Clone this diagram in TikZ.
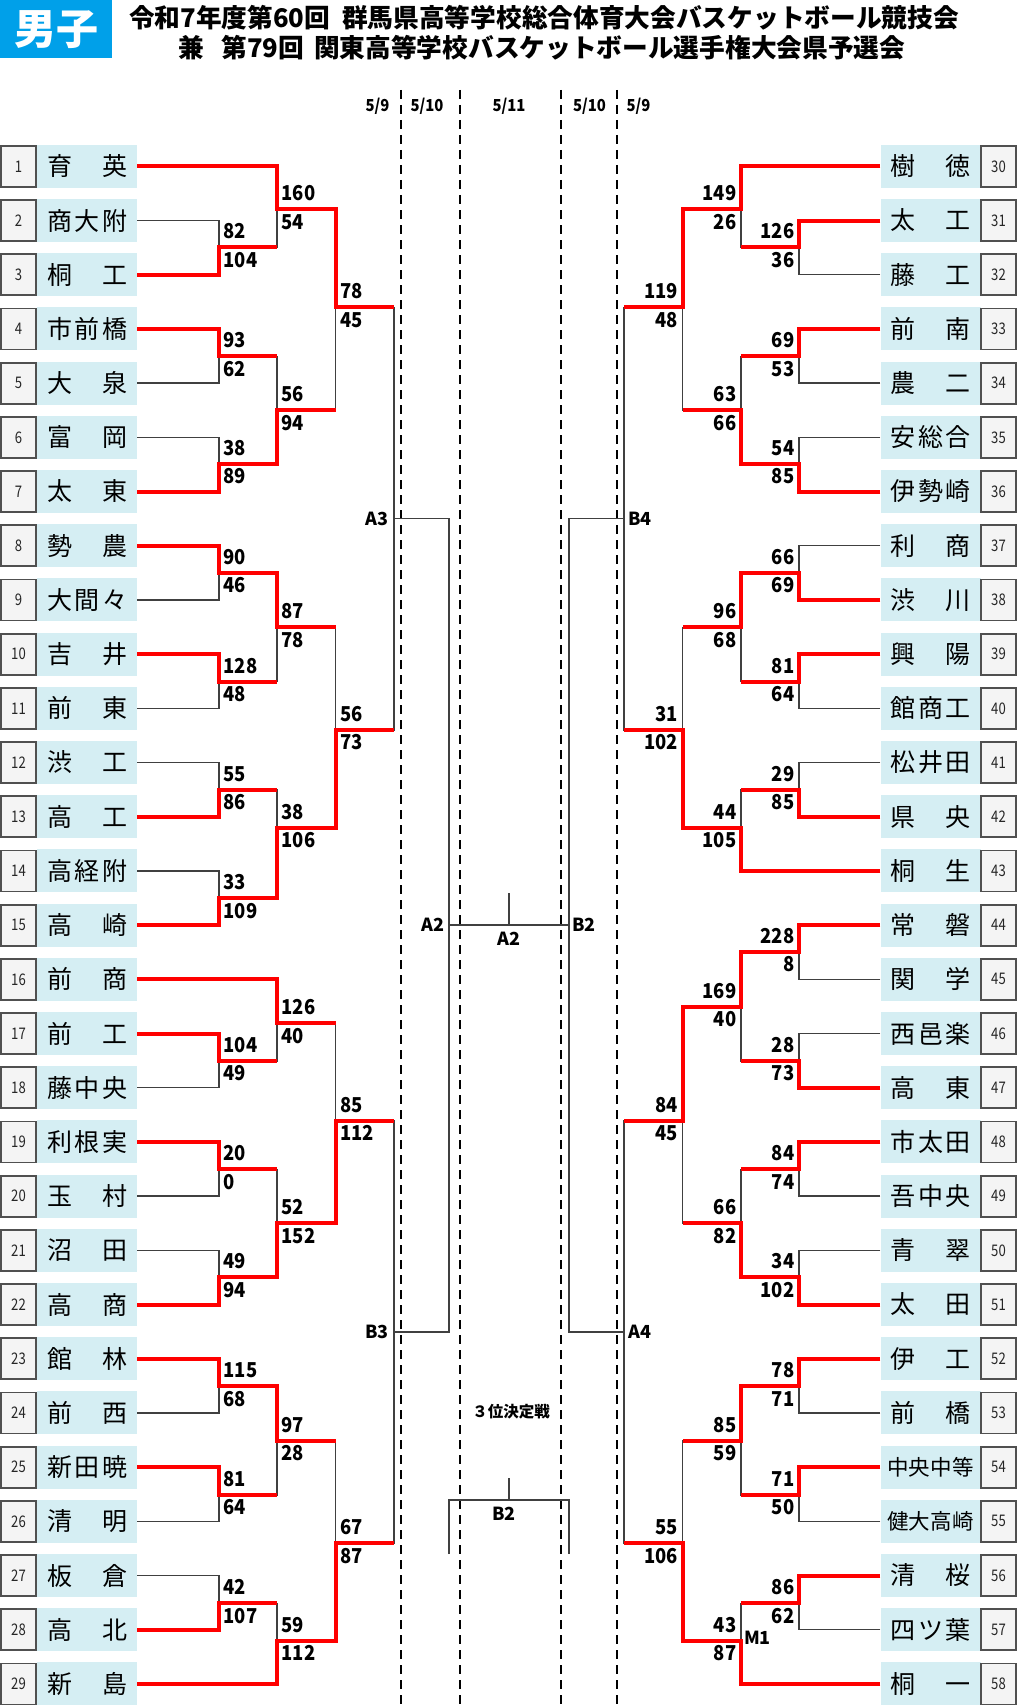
\documentclass[tikz,border=0pt]{standalone}
\usepackage{fontspec}
\newfontfamily\jp{Noto Sans CJK JP}
\newfontfamily\jpn{Noto Sans CJK JP}[FakeStretch=0.82]
\newfontfamily\jps{Noto Sans CJK JP}[FakeStretch=0.9]
\definecolor{namefill}{HTML}{D5EEF3}
\definecolor{numfill}{HTML}{F4F4F4}
\definecolor{numline}{HTML}{505050}
\definecolor{thinc}{HTML}{404040}
\definecolor{boyblue}{HTML}{00A0E9}
\definecolor{winred}{HTML}{FF0000}
\pgfdeclarelayer{back}
\pgfsetlayers{back,main}
\tikzset{
 win/.style={draw=winred, line width=4pt, line join=miter},
 thinline/.style={draw=thinc, line width=1.3pt},
 dashline/.style={draw=black, line width=2.6pt, dash pattern=on 9pt off 6pt},
 numbox/.style={draw=numline, line width=1.8pt, fill=numfill, minimum width=35pt, minimum height=41pt, inner sep=0pt, font=\jpn\fontsize{16}{16}\selectfont, text=black!85},
 namebox/.style={fill=namefill, minimum width=100pt, minimum height=43pt, inner sep=0pt, font=\jp\fontsize{25}{25}\selectfont},
 sc/.style={inner sep=0pt, font=\jps\bfseries\fontsize{20.5}{20.5}\selectfont},
 lab/.style={inner sep=0pt, font=\jp\bfseries\fontsize{18}{18}\selectfont},
 datelab/.style={inner sep=0pt, font=\jps\bfseries\fontsize{16.5}{16.5}\selectfont},
 titlelab/.style={inner sep=0pt, font=\jp\bfseries\fontsize{25.7}{25.7}\selectfont},
}
\newcommand\NN[1]{\makebox[80pt][s]{#1}}
\newcommand\NF[1]{{\fontsize{21.5}{21.5}\selectfont\makebox[87pt][s]{#1}}}
\newcommand\teamL[3]{\node[numbox] (n#1) at (18.5,#2) {#1};\node[namebox] (t#1) at (87,#2) {#3};}
\newcommand\teamR[3]{\node[namebox] (t#1) at (930.5,#2) {#3};\node[numbox] (n#1) at (998.5,#2) {#1};}
% left match: top src, bottom src, junction, parent, winner(1/2), top score, bottom score
\newcommand\ML[7]{%
 \ifnum#5=1
  \begin{pgfonlayer}{back}\draw[thinline] (#2) -| (#3);\end{pgfonlayer}
  \draw[win] (#1) -| (#3) -- (#3 -| #4);
 \else
  \begin{pgfonlayer}{back}\draw[thinline] (#1) -| (#3);\end{pgfonlayer}
  \draw[win] (#2) -| (#3) -- (#3 -| #4);
 \fi
 \path (#3) ++(4.5,-16) node[sc,anchor=west] (#3-a) {#6};
 \path (#3) ++(4.5,12.5) node[sc,anchor=west] (#3-b) {#7};
}
\newcommand\MR[7]{%
 \ifnum#5=1
  \begin{pgfonlayer}{back}\draw[thinline] (#2) -| (#3);\end{pgfonlayer}
  \draw[win] (#1) -| (#3) -- (#3 -| #4);
 \else
  \begin{pgfonlayer}{back}\draw[thinline] (#1) -| (#3);\end{pgfonlayer}
  \draw[win] (#2) -| (#3) -- (#3 -| #4);
 \fi
 \path (#3) ++(-4.5,-16) node[sc,anchor=east] (#3-a) {#6};
 \path (#3) ++(-4.5,12.5) node[sc,anchor=east] (#3-b) {#7};
}
\begin{document}
\begin{tikzpicture}[x=1pt,y=-1pt]
\useasboundingbox (0,0) rectangle (1020,1707);
% header
\node[fill=boyblue, text=white, minimum width=112pt, minimum height=58pt, anchor=north west, inner sep=0pt, font=\jp\bfseries\fontsize{42}{42}\selectfont] (boys) at (0,0) {男子};
\node[titlelab] (title1) at (544,17.5) {令和7年度第60回\hspace{12pt}群馬県高等学校総合体育大会バスケットボール競技会};
\node[titlelab] (title2) at (542,47.5) {兼\hspace{17pt}第79回\hspace{10pt}関東高等学校バスケットボール選手権大会県予選会};
\node[datelab] (d1) at (377.5,106) {5/9};
\node[datelab] (d2) at (427,106) {5/10};
\node[datelab] (d3) at (509,106) {5/11};
\node[datelab] (d4) at (589.5,106) {5/10};
\node[datelab] (d5) at (638.5,106) {5/9};
\begin{pgfonlayer}{back}
\foreach \xx in {401,460,561,617} \draw[dashline] (\xx,90) -- (\xx,1707);
\end{pgfonlayer}
% teams left
\teamL{1}{166.3}{\NN{育\hfill 英}}
\teamL{2}{220.5}{\NN{商\hfill 大\hfill 附}}
\teamL{3}{274.7}{\NN{桐\hfill 工}}
\teamL{4}{328.9}{\NN{市\hfill 前\hfill 橋}}
\teamL{5}{383.1}{\NN{大\hfill 泉}}
\teamL{6}{437.3}{\NN{富\hfill 岡}}
\teamL{7}{491.5}{\NN{太\hfill 東}}
\teamL{8}{545.7}{\NN{勢\hfill 農}}
\teamL{9}{599.9}{\NN{大\hfill 間\hfill 々}}
\teamL{10}{654.1}{\NN{吉\hfill 井}}
\teamL{11}{708.3}{\NN{前\hfill 東}}
\teamL{12}{762.5}{\NN{渋\hfill 工}}
\teamL{13}{816.7}{\NN{高\hfill 工}}
\teamL{14}{870.9}{\NN{高\hfill 経\hfill 附}}
\teamL{15}{925.1}{\NN{高\hfill 崎}}
\teamL{16}{979.3}{\NN{前\hfill 商}}
\teamL{17}{1033.5}{\NN{前\hfill 工}}
\teamL{18}{1087.7}{\NN{藤\hfill 中\hfill 央}}
\teamL{19}{1141.9}{\NN{利\hfill 根\hfill 実}}
\teamL{20}{1196.1}{\NN{玉\hfill 村}}
\teamL{21}{1250.3}{\NN{沼\hfill 田}}
\teamL{22}{1304.5}{\NN{高\hfill 商}}
\teamL{23}{1358.7}{\NN{館\hfill 林}}
\teamL{24}{1412.9}{\NN{前\hfill 西}}
\teamL{25}{1467.1}{\NN{新\hfill 田\hfill 暁}}
\teamL{26}{1521.3}{\NN{清\hfill 明}}
\teamL{27}{1575.5}{\NN{板\hfill 倉}}
\teamL{28}{1629.7}{\NN{高\hfill 北}}
\teamL{29}{1683.9}{\NN{新\hfill 島}}
% teams right
\teamR{30}{166.3}{\NN{樹\hfill 徳}}
\teamR{31}{220.5}{\NN{太\hfill 工}}
\teamR{32}{274.7}{\NN{藤\hfill 工}}
\teamR{33}{328.9}{\NN{前\hfill 南}}
\teamR{34}{383.1}{\NN{農\hfill 二}}
\teamR{35}{437.3}{\NN{安\hfill 総\hfill 合}}
\teamR{36}{491.5}{\NN{伊\hfill 勢\hfill 崎}}
\teamR{37}{545.7}{\NN{利\hfill 商}}
\teamR{38}{599.9}{\NN{渋\hfill 川}}
\teamR{39}{654.1}{\NN{興\hfill 陽}}
\teamR{40}{708.3}{\NN{館\hfill 商\hfill 工}}
\teamR{41}{762.5}{\NN{松\hfill 井\hfill 田}}
\teamR{42}{816.7}{\NN{県\hfill 央}}
\teamR{43}{870.9}{\NN{桐\hfill 生}}
\teamR{44}{925.1}{\NN{常\hfill 磐}}
\teamR{45}{979.3}{\NN{関\hfill 学}}
\teamR{46}{1033.5}{\NN{西\hfill 邑\hfill 楽}}
\teamR{47}{1087.7}{\NN{高\hfill 東}}
\teamR{48}{1141.9}{\NN{市\hfill 太\hfill 田}}
\teamR{49}{1196.1}{\NN{吾\hfill 中\hfill 央}}
\teamR{50}{1250.3}{\NN{青\hfill 翠}}
\teamR{51}{1304.5}{\NN{太\hfill 田}}
\teamR{52}{1358.7}{\NN{伊\hfill 工}}
\teamR{53}{1412.9}{\NN{前\hfill 橋}}
\teamR{54}{1467.1}{\NF{中\hfill 央\hfill 中\hfill 等}}
\teamR{55}{1521.3}{\NF{健\hfill 大\hfill 高\hfill 崎}}
\teamR{56}{1575.5}{\NN{清\hfill 桜}}
\teamR{57}{1629.7}{\NN{四\hfill ツ\hfill 葉}}
\teamR{58}{1683.9}{\NN{桐\hfill 一}}
% junctions left
\coordinate (a23) at (219,247.3);
\coordinate (a1x23) at (277,209.3);
\coordinate (a45) at (219,356.3);
\coordinate (a67) at (219,464);
\coordinate (a4x7) at (277,410.3);
\coordinate (a1x7) at (335.5,307.3);
\coordinate (a89) at (219,572.7);
\coordinate (a1011) at (219,681.7);
\coordinate (a8x11) at (277,627.3);
\coordinate (a1213) at (219,790);
\coordinate (a1415) at (219,898.3);
\coordinate (a12x15) at (277,827.7);
\coordinate (a8x15) at (335.5,730);
\coordinate (a1718) at (219,1061);
\coordinate (a16x18) at (277,1023.3);
\coordinate (a1920) at (219,1169.3);
\coordinate (a2122) at (219,1277.3);
\coordinate (a19x22) at (277,1223.3);
\coordinate (a16x22) at (335.5,1120.7);
\coordinate (a2324) at (219,1386.3);
\coordinate (a2526) at (219,1495);
\coordinate (a23x26) at (277,1441);
\coordinate (a2728) at (219,1603.3);
\coordinate (a27x29) at (277,1640.7);
\coordinate (a23x29) at (335.5,1543.3);
\coordinate (A3) at (394,518.7);
\coordinate (B3) at (394,1332);
% junctions right
\coordinate (b3132) at (799,247.3);
\coordinate (b30x32) at (741,209.3);
\coordinate (b3334) at (799,356.3);
\coordinate (b3536) at (799,464);
\coordinate (b33x36) at (741,410.3);
\coordinate (b30x36) at (682.5,307.3);
\coordinate (b3738) at (799,572.7);
\coordinate (b3940) at (799,681.7);
\coordinate (b37x40) at (741,627.3);
\coordinate (b4142) at (799,790);
\coordinate (b41x43) at (741,827.7);
\coordinate (b37x43) at (682.5,730);
\coordinate (b4445) at (799,951.7);
\coordinate (b4647) at (799,1061);
\coordinate (b44x47) at (741,1006.7);
\coordinate (b4849) at (799,1169.3);
\coordinate (b5051) at (799,1277.3);
\coordinate (b48x51) at (741,1223.3);
\coordinate (b44x51) at (682.5,1120.7);
\coordinate (b5253) at (799,1386.3);
\coordinate (b5455) at (799,1495);
\coordinate (b52x55) at (741,1441);
\coordinate (b5657) at (799,1603.3);
\coordinate (b56x58) at (741,1640.7);
\coordinate (b52x58) at (682.5,1543.3);
\coordinate (B4) at (624,518.7);
\coordinate (A4) at (624,1332);
% centre
\coordinate (A2L) at (449,925);
\coordinate (B2R) at (569,925);
\coordinate (F) at (509,925);
\coordinate (TL) at (449,1500);
\coordinate (TR) at (569,1500);
\coordinate (T) at (509,1500);
% left matches
\ML{t2.east}{t3.east}{a23}{a1x23}{2}{82}{104}
\ML{t1.east}{a23}{a1x23}{a1x7}{1}{160}{54}
\ML{t4.east}{t5.east}{a45}{a4x7}{1}{93}{62}
\ML{t6.east}{t7.east}{a67}{a4x7}{2}{38}{89}
\ML{a45}{a67}{a4x7}{a1x7}{2}{56}{94}
\ML{a1x23}{a4x7}{a1x7}{A3}{1}{78}{45}
\ML{t8.east}{t9.east}{a89}{a8x11}{1}{90}{46}
\ML{t10.east}{t11.east}{a1011}{a8x11}{1}{128}{48}
\ML{a89}{a1011}{a8x11}{a8x15}{1}{87}{78}
\ML{t12.east}{t13.east}{a1213}{a12x15}{2}{55}{86}
\ML{t14.east}{t15.east}{a1415}{a12x15}{2}{33}{109}
\ML{a1213}{a1415}{a12x15}{a8x15}{2}{38}{106}
\ML{a8x11}{a12x15}{a8x15}{A3}{2}{56}{73}
\ML{t17.east}{t18.east}{a1718}{a16x18}{1}{104}{49}
\ML{t16.east}{a1718}{a16x18}{a16x22}{1}{126}{40}
\ML{t19.east}{t20.east}{a1920}{a19x22}{1}{20}{0}
\ML{t21.east}{t22.east}{a2122}{a19x22}{2}{49}{94}
\ML{a1920}{a2122}{a19x22}{a16x22}{2}{52}{152}
\ML{a16x18}{a19x22}{a16x22}{B3}{2}{85}{112}
\ML{t23.east}{t24.east}{a2324}{a23x26}{1}{115}{68}
\ML{t25.east}{t26.east}{a2526}{a23x26}{1}{81}{64}
\ML{a2324}{a2526}{a23x26}{a23x29}{1}{97}{28}
\ML{t27.east}{t28.east}{a2728}{a27x29}{2}{42}{107}
\ML{a2728}{t29.east}{a27x29}{a23x29}{2}{59}{112}
\ML{a23x26}{a27x29}{a23x29}{B3}{2}{67}{87}
% right matches
\MR{t31.west}{t32.west}{b3132}{b30x32}{1}{126}{36}
\MR{t30.west}{b3132}{b30x32}{b30x36}{1}{149}{26}
\MR{t33.west}{t34.west}{b3334}{b33x36}{1}{69}{53}
\MR{t35.west}{t36.west}{b3536}{b33x36}{2}{54}{85}
\MR{b3334}{b3536}{b33x36}{b30x36}{2}{63}{66}
\MR{b30x32}{b33x36}{b30x36}{B4}{1}{119}{48}
\MR{t37.west}{t38.west}{b3738}{b37x40}{2}{66}{69}
\MR{t39.west}{t40.west}{b3940}{b37x40}{1}{81}{64}
\MR{b3738}{b3940}{b37x40}{b37x43}{1}{96}{68}
\MR{t41.west}{t42.west}{b4142}{b41x43}{2}{29}{85}
\MR{b4142}{t43.west}{b41x43}{b37x43}{2}{44}{105}
\MR{b37x40}{b41x43}{b37x43}{B4}{2}{31}{102}
\MR{t44.west}{t45.west}{b4445}{b44x47}{1}{228}{8}
\MR{t46.west}{t47.west}{b4647}{b44x47}{2}{28}{73}
\MR{b4445}{b4647}{b44x47}{b44x51}{1}{169}{40}
\MR{t48.west}{t49.west}{b4849}{b48x51}{1}{84}{74}
\MR{t50.west}{t51.west}{b5051}{b48x51}{2}{34}{102}
\MR{b4849}{b5051}{b48x51}{b44x51}{2}{66}{82}
\MR{b44x47}{b48x51}{b44x51}{A4}{1}{84}{45}
\MR{t52.west}{t53.west}{b5253}{b52x55}{1}{78}{71}
\MR{t54.west}{t55.west}{b5455}{b52x55}{1}{71}{50}
\MR{b5253}{b5455}{b52x55}{b52x58}{1}{85}{59}
\MR{t56.west}{t57.west}{b5657}{b56x58}{1}{86}{62}
\MR{b5657}{t58.west}{b56x58}{b52x58}{2}{43}{87}
\MR{b52x55}{b56x58}{b52x58}{A4}{2}{55}{106}
% unplayed rounds
\begin{pgfonlayer}{back}
\draw[thinline] (a1x7) -| (A3);
\draw[thinline] (a8x15) -| (A3);
\draw[thinline] (a16x22) -| (B3);
\draw[thinline] (a23x29) -| (B3);
\draw[thinline] (b30x36) -| (B4);
\draw[thinline] (b37x43) -| (B4);
\draw[thinline] (b44x51) -| (A4);
\draw[thinline] (b52x58) -| (A4);
\draw[thinline] (A3) -| (A2L);
\draw[thinline] (B3) -| (A2L);
\draw[thinline] (B4) -| (B2R);
\draw[thinline] (A4) -| (B2R);
\draw[thinline] (A2L) -- (B2R);
\draw[thinline] (F) -- ++(0,-32);
\draw[thinline] (TL) ++(0,54) -- (TL) -- (TR) -- ++(0,54);
\draw[thinline] (T) -- ++(0,-22);
\end{pgfonlayer}
% labels
\node[lab,anchor=east] (lA3) at (389,518.7) {A3};
\node[lab,anchor=east] (lB3) at (389,1332) {B3};
\node[lab,anchor=west] (lB4) at (628,518.7) {B4};
\node[lab,anchor=west] (lA4) at (628,1332) {A4};
\node[lab,anchor=east] (lA2) at (445,925) {A2};
\node[lab,anchor=west] (lB2) at (572,925) {B2};
\node[lab] (fA2) at (509,939) {A2};
\node[lab] (tB2) at (504,1514) {B2};
\node[lab,anchor=west] (lM1) at (744,1638) {M1};
\node[inner sep=0pt, font=\jp\bfseries\fontsize{15.5}{15.5}\selectfont] (third) at (511,1412) {３位決定戦};
\end{tikzpicture}
\end{document}
